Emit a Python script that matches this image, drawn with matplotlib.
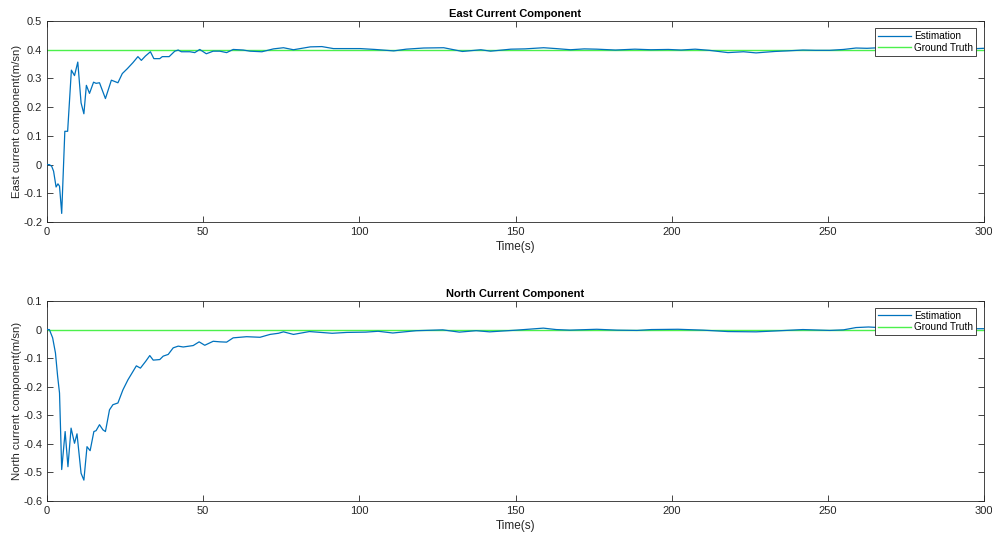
import matplotlib
matplotlib.use("Agg")
import matplotlib.pyplot as plt
from matplotlib.ticker import MultipleLocator

plt.rcParams['font.family'] = ['Liberation Sans', 'DejaVu Sans']

# East component estimate (time in s, value in m/s)
east_t = [0, 0.75, 1.5, 2.1, 2.9, 3.5, 4.0, 4.7, 5.7, 6.6, 7.8, 8.8, 9.85, 10.9, 11.8,
          12.6, 13.6, 14.9, 15.7, 16.8, 18.7, 20.6, 22.7, 24.1, 25.7, 27.5, 29.1, 30.2,
          31.5, 33.1, 34.2, 36.1, 36.9, 39.1, 40.9, 42.0, 43.0, 45.7, 47.3, 48.9, 51.0,
          53.2, 55.3, 57.5, 59.6, 62.8, 65.0, 68.8, 72.5, 75.7, 78.9, 84.3, 88.0, 91.7,
          100.3, 105.0, 111.0, 115.0, 120.6, 127.0, 133.0, 138.9, 142.0, 148.5, 153.0,
          159.0, 163.0, 167.6, 172.0, 176.0, 182.0, 188.2, 193.3, 198.9, 203.0, 207.5,
          212.0, 218.0, 223.0, 227.0, 233.0, 237.0, 242.0, 246.0, 250.6, 255.0, 259.0,
          262.5, 266.5, 272.0, 278.0, 284.0, 290.0, 295.0, 300.0]
east_est = [0.0, 0.0, -0.006, -0.023, -0.078, -0.067, -0.075, -0.17, 0.116, 0.116, 0.329,
            0.31, 0.357, 0.215, 0.177, 0.276, 0.248, 0.287, 0.283, 0.285, 0.23, 0.294,
            0.285, 0.317, 0.334, 0.355, 0.376, 0.363, 0.378, 0.393, 0.369, 0.369, 0.376,
            0.376, 0.395, 0.399, 0.393, 0.393, 0.39, 0.401, 0.386, 0.395, 0.395, 0.39,
            0.401, 0.399, 0.395, 0.393, 0.403, 0.407, 0.4, 0.41, 0.411, 0.404, 0.404,
            0.401, 0.396, 0.402, 0.406, 0.407, 0.394, 0.4, 0.395, 0.402, 0.403, 0.407,
            0.404, 0.4, 0.403, 0.402, 0.399, 0.402, 0.4, 0.401, 0.399, 0.402, 0.398,
            0.39, 0.393, 0.389, 0.394, 0.396, 0.399, 0.398, 0.398, 0.401, 0.406, 0.405,
            0.407, 0.404, 0.405, 0.402, 0.404, 0.403, 0.405]
east_truth = 0.4

# North component estimate (time in s, value in m/s)
north_t = [0, 0.75, 1.8, 2.7, 3.4, 4.0, 4.7, 5.8, 6.7, 7.7, 8.8, 9.6, 10.9, 11.8, 12.8,
           13.8, 15.0, 15.7, 16.8, 17.9, 18.7, 20.0, 21.1, 22.7, 24.3, 25.9, 27.5, 28.6,
           29.9, 31.6, 32.9, 34.0, 36.1, 37.2, 38.8, 40.4, 42.0, 43.6, 46.8, 48.7, 50.5,
           53.2, 55.4, 57.5, 59.6, 63.9, 68.2, 71.4, 74.1, 75.7, 78.9, 84.0, 91.3, 96.0,
           102.0, 106.0, 110.7, 118.2, 126.7, 132.0, 137.4, 141.7, 150.3, 158.9, 163.0,
           167.4, 176.0, 182.5, 188.9, 193.5, 202.0, 210.0, 218.0, 227.0, 233.0, 242.0,
           250.6, 255.0, 259.0, 263.0, 268.0, 275.0, 283.0, 291.0, 300.0]
north_est = [0.0, 0.0, -0.029, -0.082, -0.164, -0.222, -0.49, -0.357, -0.48, -0.345,
             -0.398, -0.365, -0.503, -0.527, -0.41, -0.424, -0.357, -0.354, -0.333,
             -0.351, -0.357, -0.281, -0.263, -0.257, -0.211, -0.176, -0.147, -0.127,
             -0.135, -0.111, -0.091, -0.107, -0.105, -0.093, -0.087, -0.064, -0.058,
             -0.061, -0.056, -0.043, -0.055, -0.041, -0.043, -0.044, -0.029, -0.025,
             -0.027, -0.017, -0.013, -0.008, -0.017, -0.007, -0.013, -0.01, -0.009,
             -0.006, -0.012, -0.004, -0.001, -0.009, -0.004, -0.008, -0.002, 0.005,
             0.0, -0.002, 0.001, -0.002, -0.003, 0.0, 0.001, -0.002, -0.007, -0.008,
             -0.005, 0.0, -0.003, -0.001, 0.007, 0.009, 0.006, 0.004, 0.005, 0.003, 0.003]
north_truth = 0.0

x_ticks = [0, 50, 100, 150, 200, 250, 300]

BLUE = '#0072BD'
GREEN = '#4CF04C'
AX_COLOR = '#262626'

fig = plt.figure(figsize=(9.92, 5.35), dpi=100)
ax1 = fig.add_axes([0.0474, 0.5850, 0.9446, 0.3757])
ax2 = fig.add_axes([0.0474, 0.0636, 0.9446, 0.3738])

panels = [
    (ax1, east_t, east_est, east_truth, (-0.2, 0.5),
     'East Current Component', 'East current component(m/sn)'),
    (ax2, north_t, north_est, north_truth, (-0.6, 0.1),
     'North Current Component', 'North current component(m/sn)'),
]

for ax, t, est, truth, ylim, title, ylabel in panels:
    ax.plot(t, est, color=BLUE, lw=0.9, label='Estimation', zorder=3)
    ax.plot([0, 300], [truth, truth], color=GREEN, lw=1.0, label='Ground Truth',
            zorder=2)
    ax.set_xlim(0, 300)
    ax.set_ylim(*ylim)
    ax.set_xticks(x_ticks)
    ax.yaxis.set_major_locator(MultipleLocator(0.1))
    ax.tick_params(direction='in', top=True, right=True, length=4, width=0.6,
                   colors=AX_COLOR, labelsize=8, pad=3.5)
    ax.yaxis.set_major_formatter(plt.FuncFormatter(
        lambda v, p: ('%g' % round(v, 2)) if abs(v) > 1e-9 else '0'))
    for s in ax.spines.values():
        s.set_color(AX_COLOR)
        s.set_linewidth(0.6)
    ax.set_title(title, fontsize=8, fontweight='bold', color='black', pad=3)
    ax.set_xlabel('Time(s)', fontsize=8.5, color=AX_COLOR, labelpad=3)
    ax.set_ylabel(ylabel, fontsize=8.2, color=AX_COLOR, labelpad=0.5)
    leg = ax.legend(loc='upper right', bbox_to_anchor=(0.9915, 0.965), fontsize=7.2,
                    handlelength=3.3, handletextpad=0.3, labelspacing=0.15,
                    borderpad=0.3, borderaxespad=0, fancybox=False, framealpha=1)
    leg.get_frame().set_edgecolor(AX_COLOR)
    leg.get_frame().set_linewidth(0.6)

fig.savefig('out.png', dpi=100, facecolor='white')
